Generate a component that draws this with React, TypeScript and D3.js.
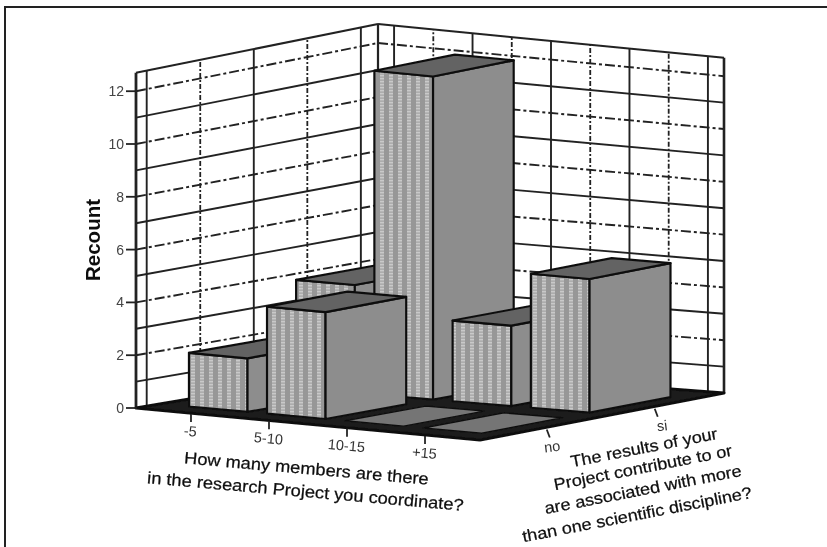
import React from "react";
import * as d3 from "d3";

const categories = ["-5", "5-10", "10-15", "+15"];
const groups = ["no", "si"];
const valuesNo = [2, 4, 0, 0];
const valuesSi = [4, 12, 3, 5];
const yTicks = [0, 2, 4, 6, 8, 10, 12];
const yMax = 12.7;
const xTitle = ["How many members are there", "in the research Project you coordinate?"];
const zTitle = ["The results of your", "Project contribute to or", "are associated with more", "than one scientific discipline?"];

// projection: floor corners on screen, bilinear between them, plus a vertical value scale
const uScale = d3.scaleLinear().domain([-0.705, 3.705]).range([0, 1]);
const vScale = d3.scaleLinear().domain([-0.6, 1.66]).range([0, 1]);
const C = { left: [136, 408], front: [480, 440], right: [724, 393], back: [378, 367] };
const unit = { left: 26.4, front: 26.2, right: 26.4, back: 27 };

function project(cu: number, cv: number, val: number): [number, number] {
  const u = uScale(cu), v = vScale(cv);
  const bi = (a: number, b: number, c: number, d: number) =>
    (1 - u) * (1 - v) * a + u * (1 - v) * b + u * v * c + (1 - u) * v * d;
  const x = bi(C.left[0], C.front[0], C.right[0], C.back[0]);
  const y = bi(C.left[1], C.front[1], C.right[1], C.back[1]);
  const h = bi(unit.left, unit.front, unit.right, unit.back);
  return [x, y - h * val];
}
const path = (pts: [number, number][]) => d3.line()(pts) + "Z";

const uMin = uScale.domain()[0], uMax = uScale.domain()[1];
const vMin = vScale.domain()[0], vMax = vScale.domain()[1];
const uSolid = d3.range(0, 5).map((i) => i - 0.5);
const uDash = d3.range(0, 4);
const vSolid = d3.range(0, 3).map((i) => i - 0.5);
const vDash = d3.range(0, 2);
const BW = 0.375;
const BAR_SHIFT = 0.04;
const BAR_K = 1.015;
const INK = "#222";

function seg(a: [number, number], b: [number, number], w: number, dash?: string, key?: string) {
  return <line key={key} x1={a[0]} y1={a[1]} x2={b[0]} y2={b[1]} stroke={INK} strokeWidth={w} strokeDasharray={dash} />;
}
const DASH = "10 3 3 3";
const VDASH = "5 2 2 2";

export default function App() {
  const series: [number, number[]][] = [[1, valuesSi], [0, valuesNo]];
  return (
    <svg width={827} height={547} style={{ position: "absolute", left: 0, top: 0, background: "#fff" }} fontFamily="'Liberation Sans', Arial, sans-serif">
      <defs>
        <pattern id="hatch" width={9} height={3} patternUnits="userSpaceOnUse">
          <rect width={9} height={3} fill="#979797" />
          <rect x={2} width={4} height={1.7} fill="#c9c9c9" />
          <rect x={2} y={1.7} width={4} height={1.3} fill="#adadad" />
        </pattern>
        <filter id="soft" x="-5%" y="-5%" width="110%" height="110%">
          <feGaussianBlur stdDeviation={0.7} />
        </filter>
      </defs>
      <g filter="url(#soft)">
        <path d="M5 547V7H827" fill="none" stroke="#222" strokeWidth={2} />
        {/* walls: horizontal */}
        {d3.range(1, 13).map((t) => {
          const dash = yTicks.includes(t) ? DASH : undefined;
          return (
            <g key={t}>
              {seg(project(uMin, vMin, t), project(uMin, vMax, t), 1.9, dash)}
              {seg(project(uMin, vMax, t), project(uMax, vMax, t), 1.9, dash)}
            </g>
          );
        })}
        {seg(project(uMin, vMin, yMax), project(uMin, vMax, yMax), 2)}
        {seg(project(uMin, vMax, yMax), project(uMax, vMax, yMax), 2)}
        {/* walls: vertical */}
        {vSolid.map((v) => seg(project(uMin, v, 0), project(uMin, v, yMax), 1.9, undefined, "vs" + v))}
        {vDash.map((v) => seg(project(uMin, v, 0), project(uMin, v, yMax), 1.8, VDASH, "vd" + v))}
        {uSolid.map((u) => seg(project(u, vMax, 0), project(u, vMax, yMax), 1.9, undefined, "us" + u))}
        {uDash.map((u) => seg(project(u, vMax, 0), project(u, vMax, yMax), 1.8, VDASH, "ud" + u))}
        {seg(project(uMin, vMin, 0), project(uMin, vMin, yMax), 2.8)}
        {seg(project(uMin, vMax, 0), project(uMin, vMax, yMax), 2.2)}
        {seg(project(uMax, vMax, 0), project(uMax, vMax, yMax), 2.6)}
        {/* floor */}
        <path d={path([project(uMin, vMin, 0), project(uMax, vMin, 0), project(uMax, vMax, 0), project(uMin, vMax, 0)])} fill="#1c1c1c" stroke="#111" strokeWidth={3} strokeLinejoin="round" />
        {/* y axis */}
        {yTicks.map((t) => {
          const [x, y] = project(uMin, vMin, t);
          return (
            <g key={t}>
              <line x1={x - 10} x2={x + 1} y1={y} y2={y} stroke={INK} strokeWidth={1.8} />
              <text x={x - 12} y={y + 5} textAnchor="end" fontSize={14} fill="#444">{t}</text>
            </g>
          );
        })}
        {/* bars, back to front */}
        {series.map(([vi, vals]) =>
          vals.map((val, ui) => {
            const c = ui + BAR_SHIFT;
            const u0 = c - BW, u1 = c + BW, v0 = vi - BW, v1 = vi + BW;
            const P = (a: number, b: number, h: number) => project(a, b, h * BAR_K);
            const sw = val === 0 ? 1.5 : 2.2;
            return (
              <g key={vi + "-" + ui} stroke="#111" strokeWidth={sw} strokeLinejoin="round">
                {val > 0 && <path d={path([P(u0, v0, 0), P(u1, v0, 0), P(u1, v0, val), P(u0, v0, val)])} fill="url(#hatch)" />}
                {val > 0 && <path d={path([P(u1, v0, 0), P(u1, v1, 0), P(u1, v1, val), P(u1, v0, val)])} fill="#8d8d8d" />}
                <path d={path([P(u0, v0, val), P(u1, v0, val), P(u1, v1, val), P(u0, v1, val)])} fill={val > 0 ? "#646464" : "#757575"} />
              </g>
            );
          })
        )}
        {/* category ticks */}
        {categories.map((c, i) => {
          const [x, y] = project(i, vMin, 0);
          return (
            <g key={c}>
              <line x1={x} x2={x} y1={y + 1} y2={y + 9} stroke={INK} strokeWidth={1.8} />
              <text transform={`translate(${x - 1},${y + 23}) rotate(5)`} textAnchor="middle" fontSize={14.5} fill="#333">{c}</text>
            </g>
          );
        })}
        {groups.map((g, i) => {
          const [x, y] = project(uMax, i, 0);
          return (
            <g key={g}>
              <line x1={x + 2} x2={x + 5} y1={y + 2} y2={y + 10} stroke={INK} strokeWidth={1.8} />
              <text transform={`translate(${x + (i === 0 ? 8 : 10)},${y + 24}) rotate(-7)`} textAnchor="middle" fontSize={14.5} fill="#333">{g}</text>
            </g>
          );
        })}
        {/* titles */}
        <text transform="translate(100,240) rotate(-90)" textAnchor="middle" fontSize={20.5} fontWeight="bold" fill="#111">Recount</text>
        {xTitle.map((s, i) => (
          <text key={s} transform={`translate(${i === 0 ? 306 : 305},${i === 0 ? 474 : 497}) rotate(5) scale(1.1,1)`} textAnchor="middle" fontSize={16.6} fill="#111" stroke="#111" strokeWidth={0.25}>{s}</text>
        ))}
        {zTitle.map((s, i) => (
          <text key={s} transform={`translate(${[645, 644, 644, 638][i]},${[453, 473, 495, 520][i]}) rotate(-11) scale(1.1,1)`} textAnchor="middle" fontSize={16.4} fill="#111" stroke="#111" strokeWidth={0.25}>{s}</text>
        ))}
      </g>
    </svg>
  );
}
